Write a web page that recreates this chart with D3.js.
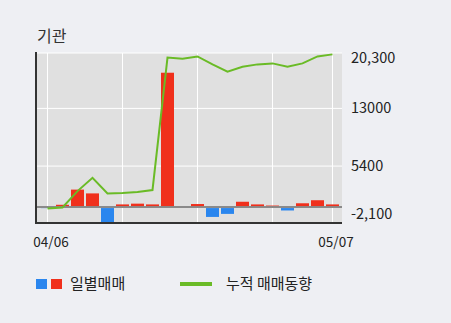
<!DOCTYPE html>
<html>
<head>
<meta charset="utf-8">
<script src="https://cdn.jsdelivr.net/npm/d3@7"></script>
<style>
  body { margin: 0; background: #eeeff3; }
  svg { display: block; font-family: "Noto Sans CJK KR", "DejaVu Sans", sans-serif; }
</style>
</head>
<body>
<svg id="chart" width="451" height="323"></svg>
<script>
// 기관 daily / cumulative trading
const dates = ["04/06","04/07","04/08","04/09","04/10","04/13","04/14","04/16","04/17","04/20",
               "04/21","04/22","04/23","04/24","04/27","04/28","04/29","05/04","05/06","05/07"];
const daily = [-150, 300, 2300, 1800, -2100, 350, 450, 350, 17700, 0,
               400, -1300, -900, 700, 350, 200, -450, 500, 900, 350];
const cumulative = [-200, -50, 2100, 3850, 1800, 1850, 2000, 2250, 19700, 19550,
                    19850, 18800, 17850, 18480, 18800, 18930, 18500, 18930, 19850, 20120];
const yTicks = [20300, 13000, 5400, -2100];
const yTickLabels = ["20,300", "13000", "5400", "-2,100"];
const gridIdx = [0, 5, 10, 15, 19];
const xLabelIdx = [0, 19];

const svg = d3.select("#chart");
const plotL = 36, plotR = 342, plotT = 53, plotB = 223;

const x = d3.scaleBand()
    .domain(d3.range(dates.length))
    .range([40, 340])
    .paddingInner(2 / 15)
    .paddingOuter(1 / 15);
const y = d3.scaleLinear().domain([-2100, 20300]).range([plotB, plotT]);
const cx = i => x(i) + x.bandwidth() / 2;

// title
svg.append("text")
    .attr("x", 37).attr("y", 42)
    .style("font-size", "16px").style("fill", "#333")
    .text("기관");

// plot background
svg.append("rect")
    .attr("x", plotL).attr("y", plotT)
    .attr("width", plotR - plotL).attr("height", plotB - plotT)
    .style("fill", "#e0e0e0");

// grid
svg.selectAll(".hgrid").data(yTicks.slice(0, 3)).enter().append("line")
    .attr("x1", plotL).attr("x2", plotR)
    .attr("y1", d => y(d)).attr("y2", d => y(d))
    .style("stroke", "#fff").style("stroke-width", 1);
svg.selectAll(".vgrid").data(gridIdx).enter().append("line")
    .attr("x1", d => cx(d)).attr("x2", d => cx(d))
    .attr("y1", plotT).attr("y2", plotB)
    .style("stroke", "#fff").style("stroke-width", 1);

// zero line
svg.append("line")
    .attr("x1", plotL).attr("x2", plotR)
    .attr("y1", y(0)).attr("y2", y(0))
    .style("stroke", "#8a8a8a").style("stroke-width", 2);

// bars
svg.selectAll(".bar").data(daily).enter().append("rect")
    .attr("x", (d, i) => x(i))
    .attr("width", x.bandwidth())
    .attr("y", d => d >= 0 ? y(d) : y(0) + 1)
    .attr("height", d => Math.max(0, Math.abs(y(d) - y(0)) - 1))
    .style("fill", d => d >= 0 ? "#f0301c" : "#2a86ee");

// cumulative line
const line = d3.line().x((d, i) => cx(i)).y(d => y(d));
svg.append("path")
    .datum(cumulative)
    .attr("d", line)
    .style("fill", "none")
    .style("stroke", "#6abb26")
    .style("stroke-width", 2);

// axes lines
svg.append("line")
    .attr("x1", plotL).attr("x2", plotL)
    .attr("y1", plotT - 1).attr("y2", plotB + 1)
    .style("stroke", "#333").style("stroke-width", 2);
svg.append("line")
    .attr("x1", plotL - 1).attr("x2", plotR)
    .attr("y1", plotB).attr("y2", plotB)
    .style("stroke", "#333").style("stroke-width", 2);

// right labels
svg.selectAll(".ylab").data(yTicks).enter().append("text")
    .attr("x", 351)
    .attr("y", d => Math.min(Math.max(y(d), 58), 214))
    .attr("dy", "0.35em")
    .style("font-size", "14.5px").style("fill", "#222")
    .text((d, i) => yTickLabels[i]);

// x labels
svg.selectAll(".xlab").data(xLabelIdx).enter().append("text")
    .attr("x", d => cx(d) + 3.5)
    .attr("y", 242)
    .attr("dy", "0.35em")
    .attr("text-anchor", "middle")
    .style("font-size", "13.5px").style("fill", "#222")
    .text(d => dates[d]);

// legend
svg.append("rect").attr("x", 36).attr("y", 279).attr("width", 11).attr("height", 10).style("fill", "#2a86ee");
svg.append("rect").attr("x", 51).attr("y", 279).attr("width", 11).attr("height", 10).style("fill", "#f0301c");
svg.append("text").attr("x", 70).attr("y", 284).attr("dy", "0.35em")
    .style("font-size", "15px").style("fill", "#222").text("일별매매");
svg.append("line").attr("x1", 180).attr("x2", 212).attr("y1", 284).attr("y2", 284)
    .style("stroke", "#6abb26").style("stroke-width", 4);
svg.append("text").attr("x", 226).attr("y", 284).attr("dy", "0.35em")
    .style("font-size", "15px").style("fill", "#222").text("누적 매매동향");
</script>
</body>
</html>
